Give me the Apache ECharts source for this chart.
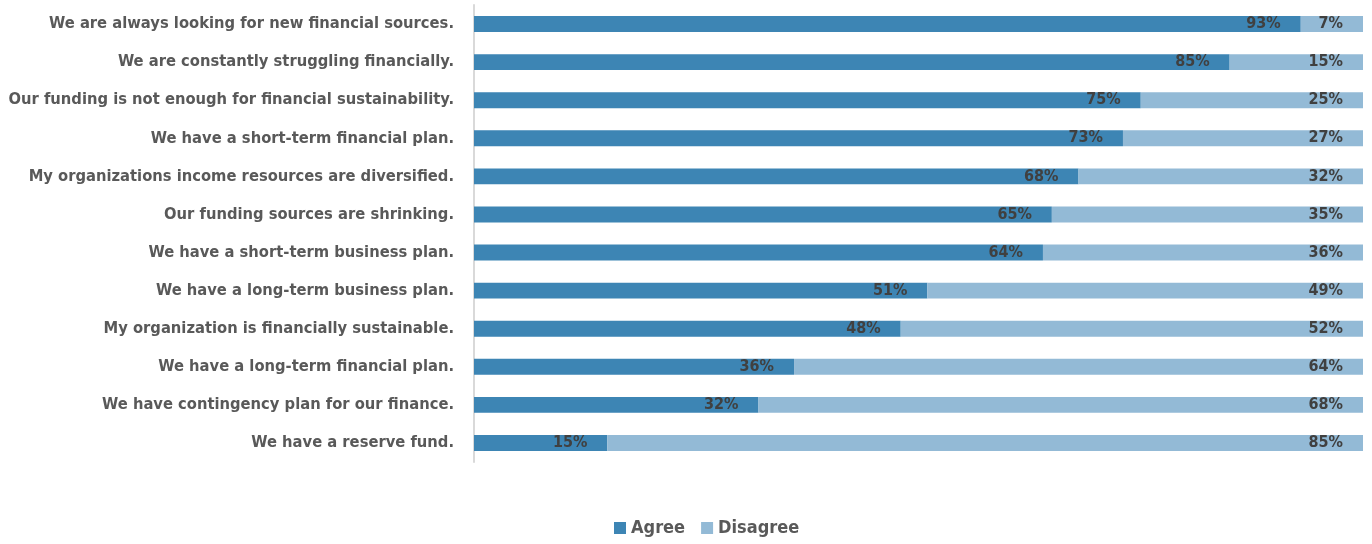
<!DOCTYPE html>
<html><head><meta charset="utf-8">
<script src="https://cdn.jsdelivr.net/npm/echarts@6/dist/echarts.min.js"></script>
<style>html,body{margin:0;padding:0;background:#fff}#c{width:1372px;height:544px}</style>
</head><body><div id="c"></div>
<script>
const categories = [
  "We are always looking for new financial sources.",
  "We are constantly struggling financially.",
  "Our funding is not enough for financial sustainability.",
  "We have a short-term financial plan.",
  "My organizations income resources are diversified.",
  "Our funding sources are shrinking.",
  "We have a short-term business plan.",
  "We have a long-term business plan.",
  "My organization is financially sustainable.",
  "We have a long-term financial plan.",
  "We have contingency plan for our finance.",
  "We have a reserve fund."
];
const agree = [93, 85, 75, 73, 68, 65, 64, 51, 48, 36, 32, 15];
const disagree = [7, 15, 25, 27, 32, 35, 36, 49, 52, 64, 68, 85];

const FONT = "'DejaVu Sans Condensed', 'Liberation Sans Narrow', sans-serif";
const chart = echarts.init(document.getElementById('c'), null, {renderer: 'canvas'});
const lbl = {
  show: true, position: 'insideRight', distance: 20,
  formatter: p => p.value + '%',
  color: '#404040', fontFamily: FONT, fontWeight: 'bold', fontSize: 16
};
chart.setOption({
  animation: false,
  grid: {left: 474, right: 9, top: 5, bottom: 82, containLabel: false, outerBoundsMode: 'none'},
  legend: {
    bottom: 2, left: 609, itemWidth: 12, itemHeight: 12, itemGap: 16,
    icon: 'rect',
    textStyle: {color: '#595959', fontFamily: FONT, fontWeight: 'bold', fontSize: 18},
    data: ['Agree', 'Disagree']
  },
  xAxis: {type: 'value', min: 0, max: 100, show: false},
  yAxis: {
    type: 'category', data: categories, inverse: true,
    axisLine: {show: true, lineStyle: {color: '#d9d9d9', width: 2}},
    axisTick: {show: false},
    axisLabel: {color: '#595959', fontFamily: FONT, fontWeight: 'bold', fontSize: 16.4, margin: 20}
  },
  series: [
    {name: 'Agree', type: 'bar', stack: 'a', data: agree, barCategoryGap: '58%',
     itemStyle: {color: '#3d85b4'}, label: lbl},
    {name: 'Disagree', type: 'bar', stack: 'a', data: disagree, barCategoryGap: '58%',
     itemStyle: {color: '#93bad6'}, label: lbl}
  ]
});
</script></body></html>
